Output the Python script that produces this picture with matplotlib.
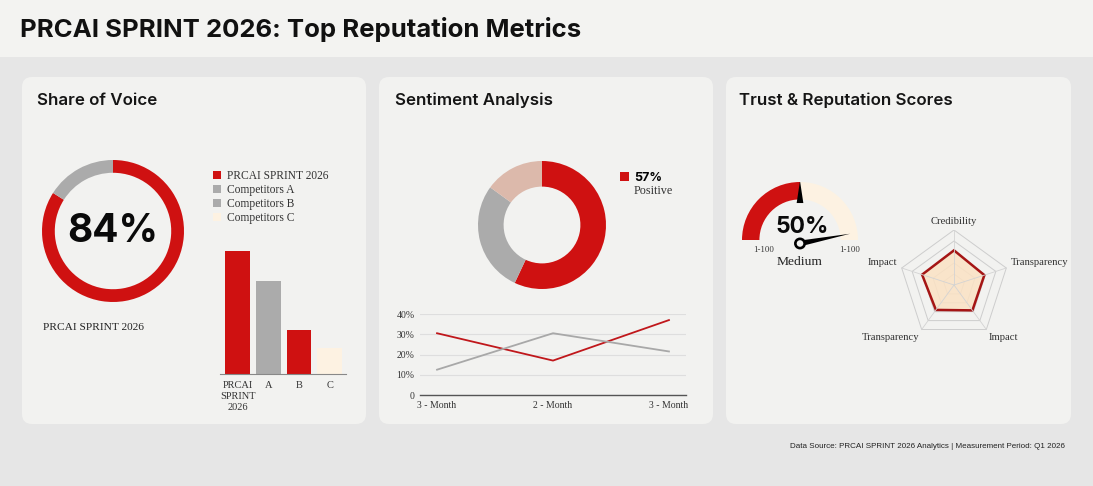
import numpy as np
import matplotlib
matplotlib.use("Agg")
import matplotlib.pyplot as plt
from matplotlib.patches import FancyBboxPatch, Rectangle, Wedge, Polygon, Circle, Patch

W, H = 1093, 486

# ---- data ----
sov_share = [84, 16]
sov_legend = ["PRCAI SPRINT 2026", "Competitors A", "Competitors B", "Competitors C"]
sov_bar_names = ["PRCAI\nSPRINT\n2026", "A", "B", "C"]
sov_bar_values = [100, 76, 36, 21]
sent_share = [57, 28, 15]
trend_months = ["3 - Month", "2 - Month", "3 - Month"]
trend_red = [30.5, 17, 37]
trend_gray = [12.5, 30.5, 21.5]
trend_ticks = [0, 10, 20, 30, 40]
trend_tick_labels = ["0", "10%", "20%", "30%", "40%"]
trust_score = 50
radar_names = ["Credibility", "Transparency", "Impact", "Transparency", "Impact"]
radar_values = [0.63, 0.58, 0.57, 0.56, 0.61]

# ---- colours / fonts ----
RED = "#cf1111"
GRAY = "#ababab"
CREAM = "#fdf2e2"
PINK = "#dcb9ab"
PANEL = "#f2f2f0"
SANS = ["Inter", "DejaVu Sans"]
SERIF = ["Liberation Serif", "DejaVu Serif"]

fig = plt.figure(figsize=(W / 100, H / 100), dpi=100)
fig.patch.set_facecolor("#e6e6e6")


def px_axes(x0, y0, x1, y1):
    # axes placed by pixel box (top-left origin)
    return fig.add_axes([x0 / W, 1 - y1 / H, (x1 - x0) / W, (y1 - y0) / H])


# background layer in pixel coordinates
bg = px_axes(0, 0, W, H)
bg.set_xlim(0, W)
bg.set_ylim(H, 0)
bg.axis("off")
bg.add_patch(Rectangle((0, 0), W, 57, facecolor="#f3f3f1", edgecolor="none"))
for x0, x1 in [(22, 366), (379, 713), (726, 1071)]:
    bg.add_patch(FancyBboxPatch((x0, 77), x1 - x0, 347,
                                boxstyle="round,pad=0,rounding_size=10",
                                facecolor=PANEL, edgecolor="none"))

bg.text(20, 30, "PRCAI SPRINT 2026: Top Reputation Metrics", family=SANS,
        fontsize=18.5, fontweight="bold", va="center", color="#111")
for x, t in [(37, "Share of Voice"), (395, "Sentiment Analysis"), (739, "Trust & Reputation Scores")]:
    bg.text(x, 100, t, family=SANS, fontsize=12.2, fontweight="semibold", va="center", color="#151515")
bg.text(1065, 446, "Data Source: PRCAI SPRINT 2026 Analytics | Measurement Period: Q1 2026",
        family=["Liberation Sans", "DejaVu Sans"], fontsize=5.8, ha="right", va="center", color="#222")

# ---- Share of Voice ----
ax1 = px_axes(42, 160, 184, 302)
ax1.pie(sov_share, colors=[RED, GRAY], startangle=90, counterclock=False,
        wedgeprops=dict(width=0.18, edgecolor="none"))
ax1.set_xlim(-1, 1)
ax1.set_ylim(-1, 1)
ax1.text(0, 0, f"{sov_share[0]}%", family=SANS, fontsize=28, fontweight="bold",
         ha="center", va="center", color="#0a0a0a")
bg.text(43, 327, "PRCAI SPRINT 2026", family=SERIF, fontsize=8.2, va="center", color="#222")

leg_cols = [RED, GRAY, GRAY, CREAM]
handles = [Patch(facecolor=c, edgecolor="none") for c in leg_cols]
fig.legend(handles, sov_legend, loc="upper left", bbox_to_anchor=(213 / W, 1 - 170 / H),
           frameon=False, prop=dict(family=SERIF, size=8.3), handlelength=0.72,
           handleheight=0.72, handletextpad=0.5, labelspacing=0.18, borderpad=0,
           borderaxespad=0, labelcolor="#333")

axb = px_axes(220, 244, 346, 374)
xb = np.arange(len(sov_bar_values))
axb.bar(xb, sov_bar_values, width=0.8, color=[RED, GRAY, RED, CREAM])
axb.set_xlim(-0.57, 3.53)
axb.set_ylim(0, 106)
axb.set_facecolor("none")
for s in ["top", "right", "left"]:
    axb.spines[s].set_visible(False)
axb.spines["bottom"].set_color("#888")
axb.spines["bottom"].set_linewidth(0.8)
axb.set_yticks([])
axb.set_xticks(xb)
axb.set_xticklabels(sov_bar_names, family=SERIF, fontsize=7.5, color="#333", linespacing=1.3)
axb.tick_params(axis="x", length=0, pad=5)

# ---- Sentiment ----
ax2 = px_axes(478, 161, 606, 289)
ax2.pie(sent_share, colors=[RED, GRAY, PINK], startangle=90, counterclock=False,
        wedgeprops=dict(width=0.4, edgecolor="none"))
ax2.set_xlim(-1, 1)
ax2.set_ylim(-1, 1)
fig.legend([Patch(facecolor=RED, edgecolor="none")], [f"{sent_share[0]}%"], loc="upper left",
           bbox_to_anchor=(620 / W, 1 - 172 / H), frameon=False,
           prop=dict(family=SANS, size=9, weight="bold"), handlelength=0.75, handleheight=0.75,
           handletextpad=0.4, borderpad=0, borderaxespad=0)
bg.text(634, 191, "Positive", family=SERIF, fontsize=8.7, va="center", color="#333")

axl = px_axes(420, 314, 686, 395)
xl = np.arange(len(trend_months))
axl.plot(xl, trend_red, color="#c0171b", lw=1.3)
axl.plot(xl, trend_gray, color="#a8a8a8", lw=1.3)
axl.set_xlim(-0.147, 2.147)
axl.set_ylim(0, 40)
axl.set_facecolor("none")
axl.set_yticks(trend_ticks)
axl.set_yticklabels(trend_tick_labels, family=SERIF, fontsize=7, color="#333")
axl.set_xticks(xl)
axl.set_xticklabels(trend_months, family=SERIF, fontsize=7, color="#333")
axl.tick_params(length=0, pad=4)
axl.grid(axis="y", color="#dedede", lw=0.8)
axl.set_axisbelow(True)
for s in ["top", "right", "left"]:
    axl.spines[s].set_visible(False)
axl.spines["bottom"].set_color("#555")
axl.spines["bottom"].set_linewidth(1)

# ---- Trust gauge ----
axg = px_axes(742, 182, 858, 298)
axg.set_xlim(-1, 1)
axg.set_ylim(-1, 1)
axg.axis("off")
frac = trust_score / 100
split = 180 - 180 * frac
axg.add_patch(Wedge((0, 0), 1, split, 180, width=0.3, facecolor=RED, edgecolor="none"))
axg.add_patch(Wedge((0, 0), 1, 0, split, width=0.3, facecolor=CREAM, edgecolor="none"))
a = np.deg2rad(split)
tri = [(1.02 * np.cos(a), 1.02 * np.sin(a)),
       (0.64 * np.cos(a - 0.09), 0.64 * np.sin(a - 0.09)),
       (0.64 * np.cos(a + 0.09), 0.64 * np.sin(a + 0.09))]
axg.add_patch(Polygon(tri, closed=True, facecolor="black", edgecolor="none"))
pivot = np.array([0.0, -0.06])
na = np.deg2rad(11)
d = np.array([np.cos(na), np.sin(na)])
nrm = np.array([-d[1], d[0]])
needle = [pivot + 0.05 * nrm, pivot + 0.88 * d, pivot - 0.05 * nrm]
axg.add_patch(Polygon(needle, closed=True, facecolor="black", edgecolor="none"))
axg.add_patch(Circle(pivot, 0.08, facecolor=PANEL, edgecolor="black", lw=1.9, zorder=3))
bg.text(802, 227, f"{trust_score}%", family=SANS, fontsize=16.5, fontweight="bold",
        ha="center", va="center", color="#0a0a0a")
bg.text(764, 250, "1-100", family=SERIF, fontsize=6.3, ha="center", va="center", color="#333")
bg.text(850, 250, "1-100", family=SERIF, fontsize=6.3, ha="center", va="center", color="#333")
bg.text(800, 262, "Medium", family=SERIF, fontsize=9.7, ha="center", va="center", color="#222")

# ---- Radar ----
axr = px_axes(899, 230, 1009, 340)
axr.set_xlim(-1, 1)
axr.set_ylim(-1, 1)
axr.axis("off")
ang = np.deg2rad(90 - 72 * np.arange(len(radar_names)))
for lvl in [0.2, 0.4, 0.6, 0.8, 1.0]:
    axr.add_patch(Polygon(np.c_[lvl * np.cos(ang), lvl * np.sin(ang)], closed=True,
                          fill=False, edgecolor="#cdcdcd", lw=0.7))
for t in ang:
    axr.plot([0, np.cos(t)], [0, np.sin(t)], color="#d3d3d3", lw=0.6)
rv = np.array(radar_values)
axr.add_patch(Polygon(np.c_[rv * np.cos(ang), rv * np.sin(ang)], closed=True,
                      facecolor="#fbe2c4", alpha=0.85, edgecolor="none"))
axr.add_patch(Polygon(np.c_[rv * np.cos(ang), rv * np.sin(ang)], closed=True,
                      fill=False, edgecolor="#a51515", lw=1.8))
for name, t in zip(radar_names, ang):
    c, s = np.cos(t), np.sin(t)
    ha = "left" if c > 0.3 else ("right" if c < -0.3 else "center")
    va = "bottom" if s > 0.9 else ("top" if s < -0.5 else "center")
    dy = 0.07 if va == "center" else 0
    axr.text(1.08 * c, 1.08 * s + dy, name, family=SERIF, fontsize=7.7, ha=ha, va=va,
             color="#333", clip_on=False)

fig.savefig("out.png", dpi=100, facecolor=fig.get_facecolor())
